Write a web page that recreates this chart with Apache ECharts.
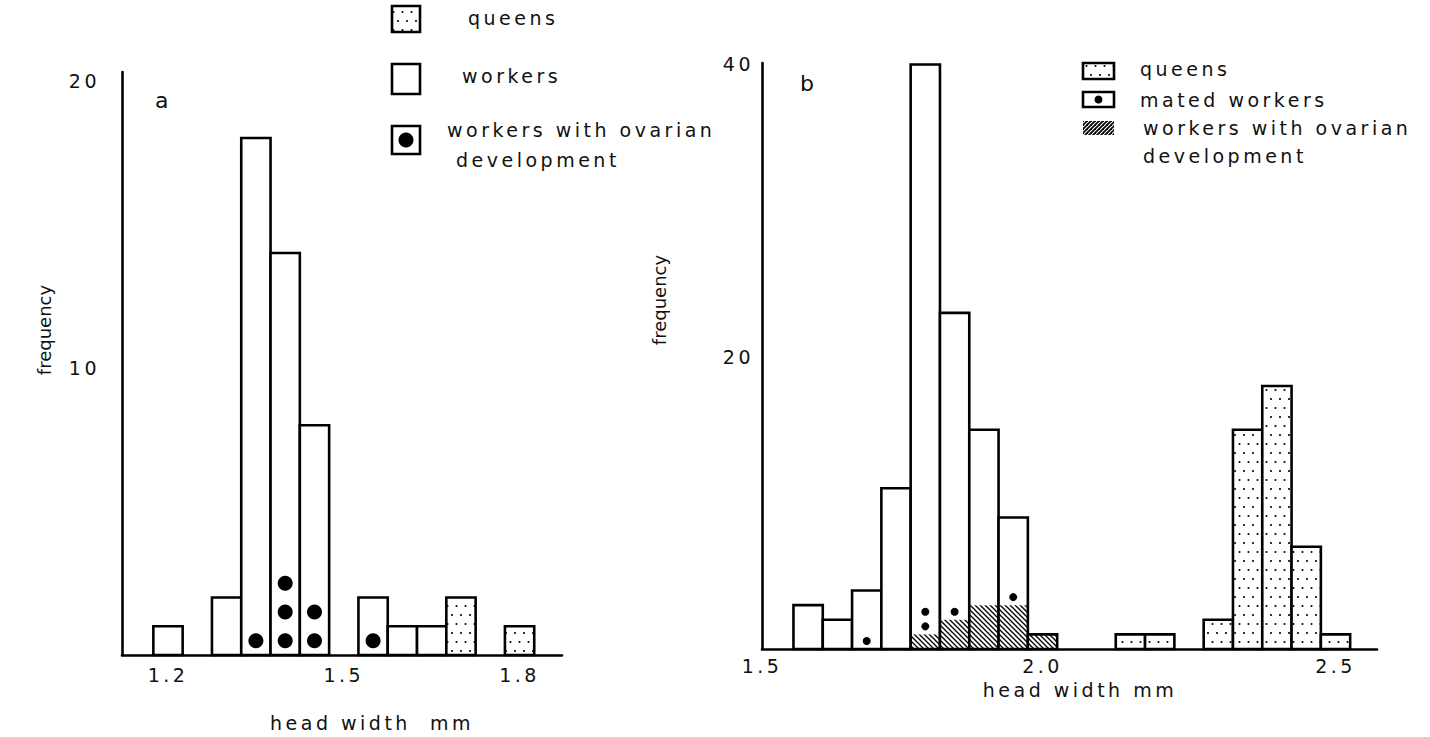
<!DOCTYPE html>
<html>
<head>
<meta charset="utf-8">
<title>head width histograms</title>
<script src="https://cdn.jsdelivr.net/npm/echarts@6/dist/echarts.min.js"></script>
<style>
  html, body { margin: 0; padding: 0; background: #fff; }
  #chart { width: 1430px; height: 737px; }
  /* the figure's typeface is widely tracked */
  #chart text[style*="tracked"] { letter-spacing: 3.5px; }
</style>
</head>
<body>
<div id="chart"></div>
<script>
// bin width of both histograms (mm)
const BIN = 0.05;

// panel a
const binsA = [1.20, 1.30, 1.35, 1.40, 1.45, 1.55, 1.60, 1.65];
const workersA = [1, 2, 18, 14, 8, 2, 1, 1];
const ovarianA = [0, 0, 1, 3, 2, 1, 0, 0];
const queenBinsA = [1.70, 1.80];
const queensA = [2, 1];
const xTicksA = [1.2, 1.5, 1.8];
const yTicksA = [10, 20];

// panel b
const binsB = [1.60, 1.65, 1.70, 1.75, 1.80, 1.85, 1.90, 1.95, 2.00];
const workersB = [3, 2, 4, 11, 40, 23, 15, 9, 1];
const ovarianB = [0, 0, 0, 0, 1, 2, 3, 3, 1];
const matedB = [0, 0, 1, 0, 2, 1, 0, 1, 0];
const queenBinsB = [2.15, 2.20, 2.30, 2.35, 2.40, 2.45, 2.50];
const queensB = [1, 1, 2, 15, 18, 7, 1];
const xTicksB = [1.5, 2.0, 2.5];
const yTicksB = [20, 40];

const FONT = "tracked, DejaVu Sans";
const PLAIN = "DejaVu Sans";
const INK = "#111";

// axis ranges (same mm-to-pixel scale in both panels)
const X_MIN_A = 1.1215, X_MAX_A = 1.8724;
const X_MIN_B = 1.5213, X_MAX_B = 2.5708;

function tile(w, h, draw) {
  const c = document.createElement("canvas");
  c.width = w;
  c.height = h;
  const g = c.getContext("2d");
  g.fillStyle = "#fff";
  g.fillRect(0, 0, w, h);
  g.fillStyle = "#000";
  g.strokeStyle = "#000";
  draw(g);
  return { image: c, repeat: "repeat", imageWidth: w, imageHeight: h };
}

const dots = tile(9, 18, (g) => {
  [[2, 3], [6.5, 12]].forEach(([x, y]) => {
    g.beginPath();
    g.arc(x, y, 1.05, 0, Math.PI * 2);
    g.fill();
  });
});
const hatch = tile(5, 5, (g) => {
  g.lineWidth = 1.3;
  for (let k = -1; k <= 1; k++) {
    g.beginPath();
    g.moveTo(-1, -1 + k * 5);
    g.lineTo(6, 6 + k * 5);
    g.stroke();
  }
});
const hatchKey = tile(4, 4, (g) => {
  g.lineWidth = 1.8;
  for (let k = -1; k <= 1; k++) {
    g.beginPath();
    g.moveTo(-1, 5 + k * 4);
    g.lineTo(5, -1 + k * 4);
    g.stroke();
  }
});

function binRect(api, x, top, bottom) {
  const p0 = api.coord([x - BIN / 2, top]);
  const p1 = api.coord([x + BIN / 2, bottom]);
  return { x: p0[0], y: p0[1], width: p1[0] - p0[0], height: p1[1] - p0[1] };
}

// white bars with optional hatched part and black dots
function workerItem(dotR, dotOffset) {
  return function (params, api) {
    const x = api.value(0);
    const total = api.value(1);
    const hatched = api.value(2);
    const marked = api.value(3);
    const r = binRect(api, x, total, 0);
    const children = [{ type: "rect", shape: r, style: { fill: "#fff" } }];
    if (hatched > 0) {
      children.push({ type: "rect", shape: binRect(api, x, hatched, 0), style: { fill: hatch } });
    }
    children.push({ type: "rect", shape: r, style: { fill: "none", stroke: "#000", lineWidth: 2.6 } });
    for (let i = 0; i < marked; i++) {
      const c = api.coord([x, hatched + dotOffset + i]);
      children.push({ type: "circle", shape: { cx: c[0], cy: c[1], r: dotR }, style: { fill: "#000" } });
    }
    return { type: "group", children: children };
  };
}

function queenItem(params, api) {
  return {
    type: "rect",
    shape: binRect(api, api.value(0), api.value(1), 0),
    style: { fill: dots, stroke: "#000", lineWidth: 2.6 },
  };
}

function xAxis(grid, min, max, ticks, margin) {
  return {
    type: "value",
    gridIndex: grid,
    min: min,
    max: max,
    axisLine: { show: true, onZero: false, lineStyle: { color: "#000", width: 2.6 } },
    axisTick: { show: false },
    splitLine: { show: false },
    axisLabel: {
      customValues: ticks.map((v) => Math.max(v, min)),
      formatter: (v) => v.toFixed(1),
      color: INK,
      fontSize: 19,
      fontFamily: FONT,
      margin: margin,
    },
  };
}

function yAxis(grid, max, ticks, margin) {
  return {
    type: "value",
    gridIndex: grid,
    min: 0,
    max: max,
    axisLine: { show: true, lineStyle: { color: "#000", width: 2.6 } },
    axisTick: { show: false },
    splitLine: { show: false },
    axisLabel: { customValues: ticks, color: INK, fontSize: 19, fontFamily: FONT, margin: margin },
  };
}

function text(str, x, y, opts) {
  opts = opts || {};
  return {
    type: "text",
    x: x,
    y: y,
    rotation: opts.rotation || 0,
    style: {
      text: str,
      fill: INK,
      fontSize: opts.size || 19,
      fontFamily: opts.family || FONT,
      align: opts.align || "left",
      verticalAlign: "middle",
    },
  };
}

function box(x, y, w, h, fill, stroke) {
  return {
    type: "rect",
    shape: { x: x, y: y, width: w, height: h },
    style: { fill: fill, stroke: stroke ? "#000" : null, lineWidth: 2.6 },
  };
}

const chart = echarts.init(document.getElementById("chart"), null, { renderer: "svg" });
chart.setOption({
  animation: false,
  backgroundColor: "#fff",
  grid: [
    { left: 122, top: 72, width: 440, height: 583, outerBoundsMode: "none" },
    { left: 762, top: 63, width: 615, height: 586, outerBoundsMode: "none" },
  ],
  xAxis: [xAxis(0, X_MIN_A, X_MAX_A, xTicksA, 10), xAxis(1, X_MIN_B, X_MAX_B, xTicksB, 7)],
  yAxis: [yAxis(0, 20.3, yTicksA, 22), yAxis(1, 40.1, yTicksB, 8)],
  series: [
    {
      name: "workers",
      type: "custom",
      xAxisIndex: 0,
      yAxisIndex: 0,
      renderItem: workerItem(7.5, 0.5),
      encode: { x: 0, y: 1 },
      data: binsA.map((b, i) => [b, workersA[i], 0, ovarianA[i]]),
    },
    {
      name: "queens",
      type: "custom",
      xAxisIndex: 0,
      yAxisIndex: 0,
      renderItem: queenItem,
      encode: { x: 0, y: 1 },
      data: queenBinsA.map((b, i) => [b, queensA[i]]),
    },
    {
      name: "workers b",
      type: "custom",
      xAxisIndex: 1,
      yAxisIndex: 1,
      renderItem: workerItem(4, 0.55),
      encode: { x: 0, y: 1 },
      data: binsB.map((b, i) => [b, workersB[i], ovarianB[i], matedB[i]]),
    },
    {
      name: "queens b",
      type: "custom",
      xAxisIndex: 1,
      yAxisIndex: 1,
      renderItem: queenItem,
      encode: { x: 0, y: 1 },
      data: queenBinsB.map((b, i) => [b, queensB[i]]),
    },
  ],
  graphic: [
    // panel labels
    text("a", 155, 100, { size: 22 }),
    text("b", 800, 83, { size: 22 }),
    // axis titles
    text("frequency", 44, 330, { rotation: Math.PI / 2, align: "center", family: PLAIN, size: 18 }),
    text("frequency", 659, 300, { rotation: Math.PI / 2, align: "center", family: PLAIN, size: 18 }),
    text("head width  mm", 372, 723, { align: "center" }),
    text("head width mm", 1080, 690, { align: "center" }),
    // legend a
    box(392, 6, 28, 26, dots, true),
    text("queens", 468, 18),
    box(392, 64, 28, 30, "#fff", true),
    text("workers", 462, 76),
    box(392, 126, 28, 28, "#fff", true),
    { type: "circle", shape: { cx: 406, cy: 140, r: 7.5 }, style: { fill: "#000" } },
    text("workers with ovarian", 447, 130),
    text("development", 456, 160),
    // legend b
    box(1083, 63, 31, 16, dots, true),
    text("queens", 1140, 69),
    box(1083, 92, 31, 15, "#fff", true),
    { type: "circle", shape: { cx: 1098.5, cy: 99.5, r: 4 }, style: { fill: "#000" } },
    text("mated workers", 1140, 100),
    box(1083, 121, 31, 14, hatchKey, false),
    text("workers with ovarian", 1143, 128),
    text("development", 1143, 156),
  ],
});
</script>
</body>
</html>
